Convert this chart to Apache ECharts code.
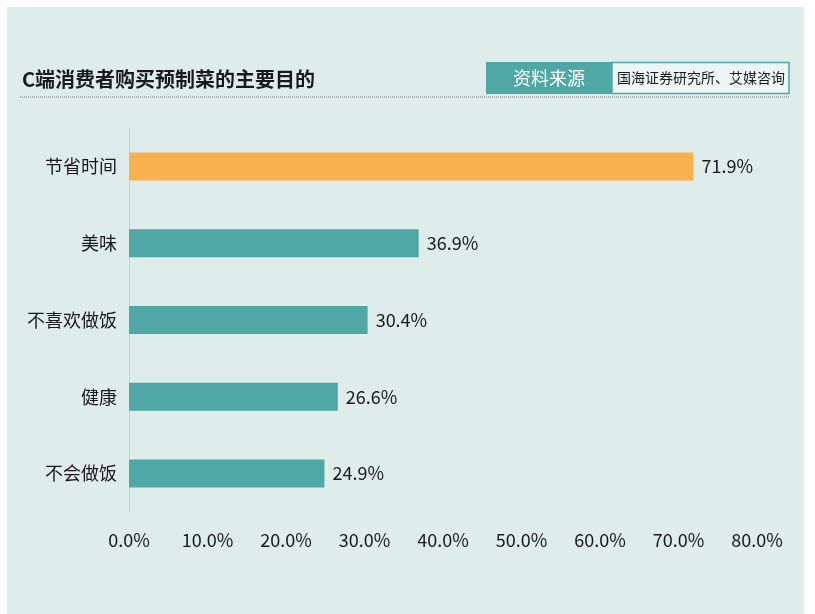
<!DOCTYPE html>
<html>
<head>
<meta charset="utf-8">
<script src="https://cdn.jsdelivr.net/npm/echarts@6/dist/echarts.min.js"></script>
<style>
  html, body { margin: 0; padding: 0; background: #fff; }
  #main { width: 815px; height: 614px; }
</style>
</head>
<body>
<div id="main"></div>
<script>
var categories = ['不会做饭', '健康', '不喜欢做饭', '美味', '节省时间'];
var values = [24.9, 26.6, 30.4, 36.9, 71.9];
var highlight = '节省时间';

var chart = echarts.init(document.getElementById('main'));

var font = '"Noto Sans CJK SC", "Noto Sans", sans-serif';

var option = {
  backgroundColor: '#ffffff',
  textStyle: { fontFamily: font },
  graphic: [
    {
      type: 'rect', z: -10,
      shape: { x: 7, y: 7, width: 797, height: 607 },
      style: { fill: '#deecea' }
    },
    {
      type: 'text', x: 22, y: 79,
      style: { text: 'C端消费者购买预制菜的主要目的', font: 'bold 20px ' + font, fill: '#1a1a1a', verticalAlign: 'middle' }
    },
    {
      type: 'line',
      shape: { x1: 20, y1: 97, x2: 790, y2: 97 },
      style: { stroke: '#777', lineWidth: 1, lineDash: [1, 1] }
    },
    {
      type: 'rect',
      shape: { x: 486, y: 62, width: 126, height: 32 },
      style: { fill: '#4fa8a5' }
    },
    {
      type: 'rect',
      shape: { x: 612, y: 62.5, width: 177, height: 31 },
      style: { fill: '#eef6f5', stroke: '#4fa8a5', lineWidth: 1.5 }
    },
    {
      type: 'text', x: 549, y: 78,
      style: { text: '资料来源', font: '18px ' + font, fill: '#ffffff', align: 'center', verticalAlign: 'middle' }
    },
    {
      type: 'text', x: 701, y: 78,
      style: { text: '国海证券研究所、艾媒咨询', font: '14px ' + font, fill: '#1a1a1a', align: 'center', verticalAlign: 'middle' }
    }
  ],
  grid: { left: 129, right: 58, top: 128, bottom: 102 },
  xAxis: {
    type: 'value',
    min: 0, max: 80, interval: 10,
    axisLine: { show: false },
    axisTick: { show: false },
    splitLine: { show: false },
    axisLabel: {
      margin: 19,
      fontSize: 18,
      color: '#1a1a1a',
      formatter: function (v) { return v.toFixed(1) + '%'; }
    }
  },
  yAxis: {
    type: 'category',
    data: categories,
    axisLine: { show: true, lineStyle: { color: '#c9d2d1' } },
    axisTick: { show: false },
    axisLabel: { fontSize: 18, color: '#1a1a1a', margin: 12 }
  },
  series: [{
    type: 'bar',
    barWidth: 28,
    data: values.map(function (v, i) {
      return {
        value: v,
        itemStyle: { color: categories[i] === highlight ? '#f9b04f' : '#4fa8a5' }
      };
    }),
    label: {
      show: true,
      position: 'right',
      distance: 8,
      fontSize: 18,
      color: '#1a1a1a',
      formatter: function (p) { return p.value.toFixed(1) + '%'; }
    }
  }]
};

chart.setOption(option);
</script>
</body>
</html>
